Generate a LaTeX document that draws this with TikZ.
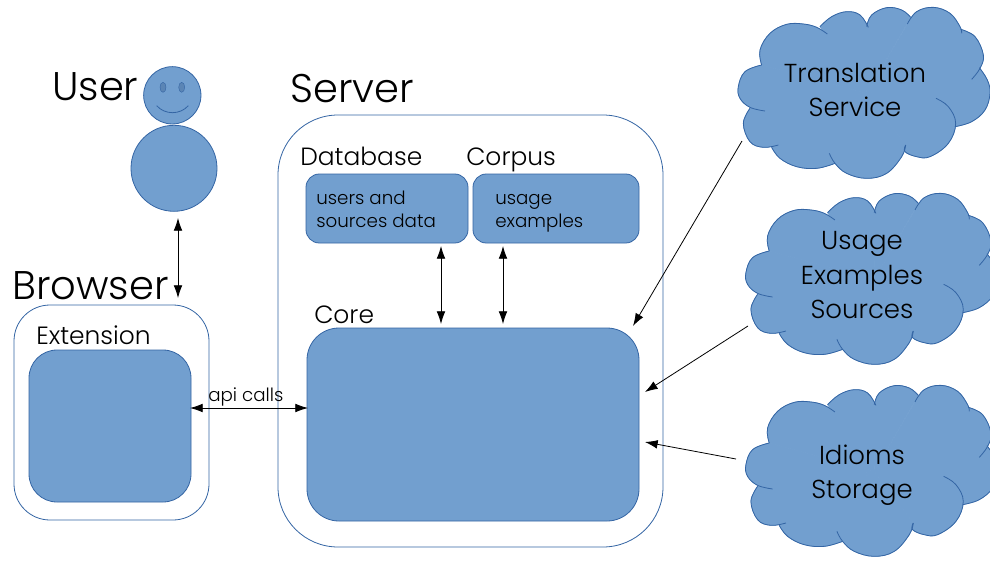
\documentclass[tikz,border=0pt]{standalone}
\usepackage{fontspec}
\setmainfont{Poppins Light}
\usetikzlibrary{arrows.meta}
\definecolor{cfill}{HTML}{729FCF}
\definecolor{cline}{HTML}{3465A4}
\definecolor{ceye}{HTML}{5B85B5}
\newcommand{\txt}[1]{\fontsize{#1}{#1}\selectfont}
\newcommand{\cloudshape}[2]{%
\begin{scope}[shift={(700+#1,#2)},x=.25pt,y=-.25pt]
\foreach \lobe in {
{(185,195)(180,150)(210,100)(260,73)(310,72)(350,82)(382,102)},
{(360,80)(395,50)(440,35)(480,45)(505,82)},
{(500,80)(515,45)(560,23)(605,30)(632,52)},
{(622,72)(650,35)(700,22)(750,40)(780,80)(785,100)},
{(782,88)(825,110)(850,165)(840,205)(815,238)},
{(838,203)(862,240)(870,280)(855,330)(815,365)(765,380)},
{(708,295)(745,320)(767,370)(745,430)(690,470)(650,470)(615,455)(617,435)},
{(617,435)(605,470)(560,520)(500,535)(440,520)(405,490)(388,460)},
{(405,490)(350,505)(290,500)(240,475)(215,442)},
{(235,435)(190,442)(150,425)(130,370)(150,325)},
{(195,333)(150,322)(120,295)(115,260)(135,215)(185,195)}}{
\path[fill=cfill,draw=cfill,line width=.5pt] (500,280) -- plot[smooth,tension=.65] coordinates \lobe -- cycle;
}
\foreach \lobe in {
{(185,195)(180,150)(210,100)(260,73)(310,72)(350,82)(382,102)},
{(360,80)(395,50)(440,35)(480,45)(505,82)},
{(500,80)(515,45)(560,23)(605,30)(632,52)},
{(622,72)(650,35)(700,22)(750,40)(780,80)(785,100)},
{(782,88)(825,110)(850,165)(840,205)(815,238)},
{(838,203)(862,240)(870,280)(855,330)(815,365)(765,380)},
{(708,295)(745,320)(767,370)(745,430)(690,470)(650,470)(615,455)(617,435)},
{(617,435)(605,470)(560,520)(500,535)(440,520)(405,490)(388,460)},
{(405,490)(350,505)(290,500)(240,475)(215,442)},
{(235,435)(190,442)(150,425)(130,370)(150,325)},
{(195,333)(150,322)(120,295)(115,260)(135,215)(185,195)}}{
\draw[cloudline] plot[smooth,tension=.65] coordinates \lobe;
}
\end{scope}}
\tikzset{
  x=.75pt,y=-.75pt,
  cloudline/.style={draw=cline,line width=.6pt},
  box/.style={draw=cline,fill=cfill,line width=.6pt,inner sep=0pt},
  frame/.style={draw=cline,fill=white,line width=.6pt,inner sep=0pt},
  dot/.style={circle,draw=cline,fill=cfill,line width=.6pt,inner sep=0pt},
  big/.style={anchor=base west,inner sep=0pt,font=\txt{30}},
  mid/.style={anchor=base west,inner sep=0pt,font=\txt{18.7}},
  small/.style={anchor=base west,inner sep=0pt,font=\txt{13.7}},
  cloudtxt/.style={anchor=base,inner sep=0pt,font=\txt{19.5}},
  link/.style={line width=.6pt,black,{Latex[length=9.5pt,width=6.5pt]}-{Latex[length=9.5pt,width=6.5pt]}},
  oneway/.style={line width=.6pt,black,-{Latex[length=9.5pt,width=6.5pt]}},
}
\begin{document}
\begin{tikzpicture}
\useasboundingbox (0,0) rectangle (990,565);
\clip (0,0) rectangle (990,565);
% frames
\node[frame,rounded corners=45pt,minimum width=288.75pt,minimum height=324pt] (server) at (470.5,331) {};
\node[frame,rounded corners=27pt,minimum width=146.25pt,minimum height=161.25pt] (browser) at (111.5,412.5) {};
% boxes
\node[box,rounded corners=24pt,minimum width=249pt,minimum height=144.75pt] (core) at (473,424.5) {};
\node[box,rounded corners=10pt,minimum width=121.5pt,minimum height=51.75pt] (database) at (387,208.5) {};
\node[box,rounded corners=10pt,minimum width=124.5pt,minimum height=51.75pt] (corpus) at (556,208.5) {};
\node[box,rounded corners=21pt,minimum width=121.5pt,minimum height=114pt] (extension) at (110,426) {};
% user
\node[dot,minimum size=64.5pt] (body) at (174,168.3) {};
\node[dot,minimum size=43pt] (head) at (172.3,95.3) {};
\fill[ceye,draw=cline,line width=.3pt] (163,87.3) ellipse [x radius=3,y radius=5];
\fill[ceye,draw=cline,line width=.3pt] (181.7,87.3) ellipse [x radius=3,y radius=5];
\draw[cline,line width=.6pt] (156.7,105.7) .. controls (165,115) and (180,115) .. (188.3,105.7);
% clouds
\cloudshape{0}{0}
\cloudshape{7.6}{186}
\cloudshape{7.6}{378}
% titles
\node[big] (usertxt) at (52,100) {User};
\node[big] (servertxt) at (290,102) {Server};
\node[big] (browsertxt) at (12,299) {Browser};
\node[mid] (dbtxt) at (300,165) {Database};
\node[mid] (corpustxt) at (466,165) {Corpus};
\node[mid] (coretxt) at (314,323) {Core};
\node[mid] (exttxt) at (36,344) {Extension};
\node[small] (dba) at (316,204) {users and};
\node[small] (dbb) at (316,227) {sources data};
\node[small] (coa) at (495,204) {usage};
\node[small] (cob) at (495,227) {examples};
\node[small] (api) at (208,401) {api calls};
\node[cloudtxt] (t1) at (855,82) {Translation};
\node[cloudtxt] (t2) at (855,116) {Service};
\node[cloudtxt] (u1) at (862,249) {Usage};
\node[cloudtxt] (u2) at (862,284) {Examples};
\node[cloudtxt] (u3) at (862,318) {Sources};
\node[cloudtxt] (i1) at (862,464) {Idioms};
\node[cloudtxt] (i2) at (862,498) {Storage};
% connector ends
\coordinate (ua) at (178,218);
\coordinate (ub) at (178,298);
\coordinate (da) at (441,246);
\coordinate (db) at (441,324);
\coordinate (ca) at (503,246);
\coordinate (cb) at (503,324);
\coordinate (ea) at (190,408);
\coordinate (eb) at (308,408);
\coordinate (ts) at (742,141);
\coordinate (te) at (633,326);
\coordinate (us) at (748,326);
\coordinate (ue) at (645,392);
\coordinate (is) at (736,459);
\coordinate (ie) at (645,442);
\draw[link] (ua) -- (ub);
\draw[link] (da) -- (db);
\draw[link] (ca) -- (cb);
\draw[link] (ea) -- (eb);
\draw[oneway] (ts) -- (te);
\draw[oneway] (us) -- (ue);
\draw[oneway] (is) -- (ie);
\end{tikzpicture}
\end{document}
